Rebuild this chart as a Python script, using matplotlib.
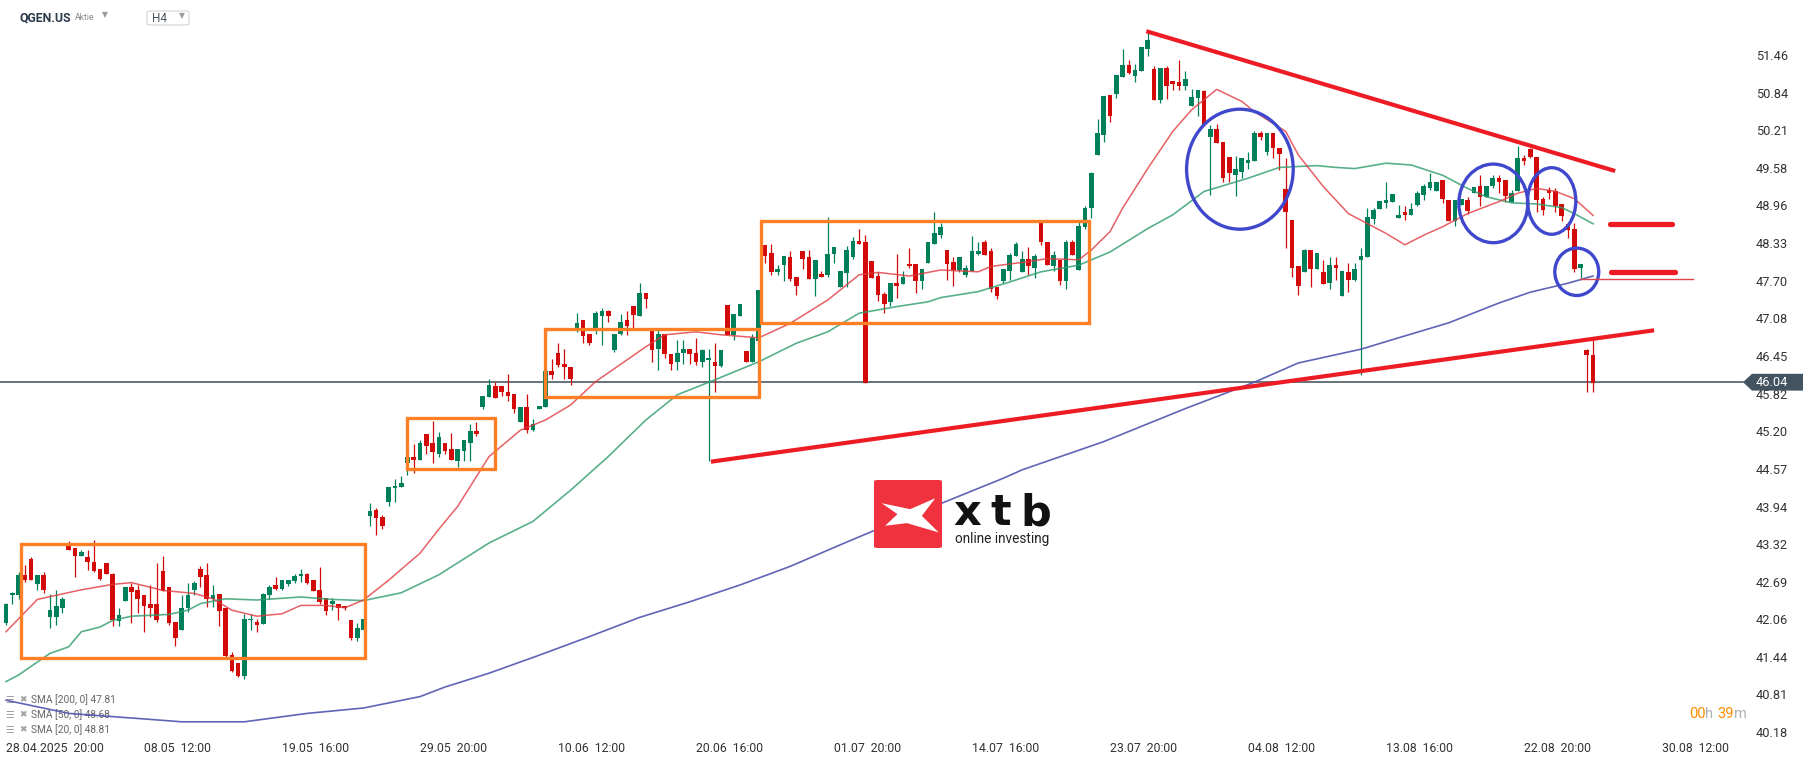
import numpy as np
import matplotlib.pyplot as plt
from matplotlib.patches import Rectangle, Ellipse, Polygon, FancyBboxPatch

plt.rcParams['font.family'] = ['Roboto', 'DejaVu Sans']

## Données (bougies H4, index = numéro de bougie)

opens = [
    42.03, 42.49, 42.49, 42.82, 43.09, 42.67, 42.82, 42.13, 42.13, 42.27,
    43.32, 43.28, 43.15, 43.13, 43.05, 42.92, 43.03, 42.84, 42.06, 42.39,
    42.63, 42.57, 42.49, 42.34, 42.35, 42.89, 42.63, 42.05, 41.91, 42.27,
    42.58, 42.92, 42.82, 42.42, 42.51, 42.27, 41.50, 41.36, 41.14, 42.07,
    42.05, 42.01, 42.49, 42.66, 42.60, 42.67, 42.72, 42.81, 42.84, 42.75,
    42.58, 42.45, 42.35, 42.35, 42.31, 42.08, 41.77, 41.91, 43.81, 43.91,
    43.79, 44.05, 44.27, 44.29, 44.70, 44.79, 44.74, 45.18, 45.02, 44.84,
    45.03, 44.92, 44.72, 44.90, 45.03, 45.22, 45.63, 45.79, 45.98, 45.98,
    45.88, 45.85, 45.38, 45.63, 45.25, 45.60, 45.63, 46.22, 46.52, 46.35,
    46.29, 46.95, 47.07, 46.85, 46.95, 47.14, 47.22, 46.58, 46.85, 47.07,
    47.31, 47.14, 47.52, 46.91, 46.59, 46.85, 46.51, 46.37, 46.52, 46.59,
    46.53, 46.37, 46.41, 46.38, 46.31, 47.33, 46.83, 47.14, 46.56, 46.38,
    46.72, 48.33, 48.19, 47.88, 47.99, 48.13, 47.79, 48.23, 48.12, 47.76,
    47.84, 47.82, 48.17, 47.63, 47.86, 48.12, 48.40, 48.38, 48.06, 47.81,
    47.51, 47.37, 47.69, 47.67, 48.01, 48.01, 47.72, 48.03, 48.35, 48.50,
    48.25, 48.04, 47.91, 47.82, 47.90, 48.18, 48.37, 48.22, 47.63, 47.73,
    47.90, 48.14, 47.88, 48.10, 47.95, 48.72, 48.37, 47.98, 48.08, 47.73,
    48.37, 47.91, 48.63, 48.94, 49.82, 50.16, 50.83, 50.85, 51.13, 51.33,
    51.15, 51.22, 51.60, 51.26, 50.74, 51.28, 51.06, 51.04, 50.98, 50.65,
    50.77, 50.89, 50.13, 50.26, 50.04, 49.79, 49.50, 49.55, 49.70, 49.73,
    50.20, 49.88, 50.19, 49.95, 49.26, 48.74, 47.98, 47.88, 48.24, 47.93,
    47.87, 47.69, 47.99, 47.48, 47.87, 47.75, 48.07, 48.13, 48.76, 48.92,
    49.03, 49.05, 48.78, 48.87, 48.82, 49.00, 49.16, 49.28, 49.23, 49.41,
    49.08, 48.73, 48.99, 49.08, 49.19, 49.31, 49.13, 49.31, 49.44, 49.41,
    49.05, 49.22, 49.77, 49.92, 49.79, 49.09, 49.25, 49.23, 49.01, 48.68,
    48.60, 47.95, 46.57, 46.49,
]
highs = [
    42.36, 42.55, 42.88, 42.99, 43.13, 42.82, 42.88, 42.51, 42.57, 42.46,
    43.40, 43.28, 43.24, 43.25, 43.41, 42.92, 43.03, 42.86, 42.28, 42.63,
    42.69, 42.66, 42.49, 42.66, 43.02, 43.15, 42.63, 42.05, 42.49, 42.70,
    42.72, 42.97, 43.02, 42.66, 42.51, 42.27, 41.55, 41.36, 42.18, 42.18,
    42.10, 42.53, 42.66, 42.80, 42.74, 42.74, 42.84, 42.92, 42.86, 42.75,
    42.96, 42.45, 42.45, 42.35, 42.31, 42.08, 42.02, 42.09, 44.03, 43.95,
    43.83, 44.29, 44.42, 44.47, 44.80, 45.01, 45.08, 45.18, 45.40, 45.21,
    45.03, 45.20, 44.92, 45.08, 45.34, 45.37, 45.81, 46.10, 46.05, 45.98,
    46.18, 45.85, 45.63, 45.85, 45.42, 45.64, 46.22, 46.42, 46.69, 46.60,
    46.29, 47.20, 47.07, 46.85, 47.22, 47.27, 47.25, 46.85, 47.18, 47.22,
    47.31, 47.70, 47.52, 46.91, 46.95, 46.85, 46.51, 46.75, 46.75, 46.59,
    46.77, 46.60, 46.60, 46.69, 46.58, 47.33, 47.18, 47.35, 46.56, 46.85,
    47.57, 48.33, 48.35, 47.99, 48.14, 48.22, 47.79, 48.23, 48.24, 48.07,
    47.89, 48.80, 48.30, 47.90, 48.31, 48.46, 48.59, 48.49, 48.06, 47.88,
    47.54, 47.70, 48.18, 47.89, 48.27, 48.01, 47.93, 48.38, 48.87, 48.70,
    48.25, 48.13, 48.12, 48.00, 48.47, 48.37, 48.41, 48.27, 47.63, 47.93,
    48.20, 48.37, 48.23, 48.29, 48.18, 48.72, 48.37, 48.22, 48.08, 48.41,
    48.41, 48.74, 48.98, 49.55, 50.43, 50.81, 50.83, 51.16, 51.59, 51.41,
    51.34, 51.62, 51.88, 51.31, 51.28, 51.31, 51.06, 51.41, 51.22, 50.93,
    50.91, 50.91, 50.32, 50.35, 50.04, 49.79, 49.81, 49.77, 49.87, 50.23,
    50.22, 50.19, 50.19, 49.95, 49.77, 48.74, 47.98, 48.26, 48.24, 48.19,
    48.08, 48.13, 48.13, 47.90, 48.03, 48.03, 48.28, 48.94, 48.94, 49.06,
    49.38, 49.18, 48.99, 48.97, 49.02, 49.22, 49.35, 49.52, 49.38, 49.41,
    49.08, 49.08, 49.10, 49.13, 49.29, 49.49, 49.31, 49.49, 49.50, 49.41,
    49.24, 49.97, 49.83, 49.94, 49.79, 49.13, 49.30, 49.27, 49.01, 48.69,
    48.69, 48.01, 46.60, 46.74,
]
lows = [
    42.00, 42.35, 42.42, 42.71, 42.74, 42.58, 42.53, 41.95, 41.99, 42.20,
    43.24, 42.80, 43.15, 42.91, 42.87, 42.74, 42.84, 41.97, 41.97, 42.39,
    42.02, 42.19, 41.88, 42.13, 42.05, 42.56, 41.99, 41.64, 41.91, 42.21,
    42.50, 42.63, 42.29, 42.30, 41.97, 41.46, 41.21, 41.12, 41.09, 41.91,
    41.88, 42.01, 42.42, 42.58, 42.57, 42.65, 42.70, 42.71, 42.68, 42.56,
    42.35, 42.16, 42.25, 42.07, 42.25, 41.75, 41.73, 41.89, 43.64, 43.50,
    43.59, 43.98, 44.05, 44.29, 44.49, 44.52, 44.74, 44.84, 44.70, 44.80,
    44.84, 44.74, 44.63, 44.72, 44.72, 45.14, 45.60, 45.79, 45.77, 45.81,
    45.73, 45.53, 45.38, 45.20, 45.22, 45.60, 45.63, 46.10, 46.30, 46.10,
    46.00, 46.88, 46.70, 46.66, 46.85, 46.66, 47.05, 46.55, 46.83, 46.83,
    46.95, 47.14, 47.27, 46.37, 46.25, 46.45, 46.25, 46.25, 46.35, 46.35,
    46.33, 46.30, 44.72, 45.88, 46.29, 46.83, 46.74, 47.14, 46.38, 46.38,
    46.72, 48.03, 47.83, 47.83, 47.73, 47.72, 47.49, 47.93, 47.76, 47.48,
    47.79, 47.79, 48.03, 47.62, 47.63, 48.09, 48.34, 46.02, 47.77, 47.40,
    47.20, 47.31, 47.45, 47.67, 47.94, 47.52, 47.59, 48.03, 48.35, 48.44,
    47.74, 47.64, 47.88, 47.80, 47.90, 48.16, 48.16, 47.55, 47.43, 47.69,
    47.75, 48.14, 47.88, 47.83, 47.77, 48.33, 48.00, 47.90, 47.66, 47.60,
    48.16, 47.91, 48.60, 48.77, 49.82, 50.05, 50.38, 50.78, 51.13, 51.17,
    51.05, 51.22, 51.48, 50.74, 50.70, 50.76, 50.91, 50.91, 50.91, 50.65,
    50.48, 50.33, 49.16, 50.03, 49.37, 49.37, 49.15, 49.44, 49.59, 49.73,
    50.08, 49.83, 49.78, 49.57, 48.28, 47.80, 47.50, 47.88, 47.62, 47.93,
    47.67, 47.60, 47.75, 47.48, 47.55, 47.73, 46.16, 48.13, 48.67, 48.92,
    48.94, 49.05, 48.78, 48.75, 48.82, 48.98, 49.08, 49.25, 49.23, 49.03,
    48.73, 48.64, 48.99, 48.85, 49.19, 48.98, 49.13, 49.27, 49.20, 49.05,
    49.05, 49.22, 49.66, 49.77, 48.88, 48.83, 49.10, 48.87, 48.72, 48.44,
    47.88, 47.77, 45.88, 45.88,
]
closes = [
    42.34, 42.53, 42.82, 42.74, 42.74, 42.82, 42.58, 42.24, 42.31, 42.42,
    43.24, 43.15, 43.21, 43.05, 42.90, 42.76, 42.85, 42.07, 42.16, 42.62,
    42.55, 42.43, 42.31, 42.28, 42.07, 42.56, 42.02, 41.77, 42.27, 42.49,
    42.69, 42.79, 42.42, 42.49, 42.23, 41.47, 41.23, 41.14, 42.09, 42.10,
    42.00, 42.51, 42.62, 42.60, 42.74, 42.74, 42.81, 42.85, 42.69, 42.56,
    42.38, 42.23, 42.39, 42.27, 42.27, 41.77, 41.95, 42.09, 43.89, 43.77,
    43.65, 44.29, 44.31, 44.36, 44.80, 44.74, 45.02, 44.98, 44.88, 45.12,
    44.90, 44.74, 44.92, 45.08, 45.22, 45.18, 45.81, 45.99, 45.77, 45.87,
    45.81, 45.59, 45.63, 45.25, 45.35, 45.64, 46.22, 46.16, 46.33, 46.29,
    46.09, 47.03, 46.81, 46.70, 47.19, 47.23, 47.14, 46.85, 47.05, 46.98,
    47.16, 47.53, 47.42, 46.58, 46.85, 46.51, 46.35, 46.53, 46.60, 46.51,
    46.37, 46.58, 46.45, 46.31, 46.58, 46.83, 47.18, 47.35, 46.38, 46.77,
    47.57, 48.14, 47.88, 47.93, 48.14, 47.76, 47.65, 48.09, 47.76, 48.07,
    47.80, 48.18, 48.30, 47.90, 48.24, 48.40, 48.35, 46.02, 47.78, 47.49,
    47.35, 47.70, 47.64, 47.79, 47.97, 47.73, 47.93, 48.38, 48.53, 48.63,
    48.01, 47.91, 48.12, 47.95, 48.22, 48.23, 48.16, 47.60, 47.48, 47.93,
    48.16, 48.34, 48.10, 47.98, 48.14, 48.37, 48.00, 48.16, 47.73, 48.37,
    48.16, 48.64, 48.94, 49.53, 50.20, 50.81, 50.48, 51.16, 51.33, 51.20,
    51.24, 51.62, 51.74, 50.74, 51.28, 50.97, 51.01, 50.98, 51.09, 50.80,
    50.91, 50.33, 50.26, 50.03, 49.45, 49.52, 49.60, 49.77, 49.75, 50.20,
    50.13, 50.19, 49.94, 49.84, 48.87, 47.95, 47.65, 48.24, 47.93, 48.19,
    47.67, 47.99, 47.95, 47.90, 47.75, 47.92, 48.14, 48.79, 48.91, 49.06,
    49.08, 49.18, 48.82, 48.82, 48.93, 49.19, 49.31, 49.37, 49.38, 49.10,
    48.73, 49.08, 49.10, 48.90, 49.29, 49.13, 49.31, 49.45, 49.38, 49.14,
    49.19, 49.77, 49.72, 49.79, 49.07, 48.91, 49.20, 48.98, 48.81, 48.58,
    47.93, 48.01, 46.49, 46.02,
]

# moyennes mobiles (index de bougie, valeur)
sma20_idx = [0, 5, 12, 17, 20, 25, 30, 33, 36, 40, 44, 47, 51, 54, 57, 61, 66, 69, 72, 77,
             82, 86, 90, 94, 102, 105, 110, 114, 120, 125, 131, 136, 139, 144, 149, 155, 157, 163, 166, 171,
             173, 176, 178, 182, 186, 189, 193, 197, 199, 204, 206, 210, 214, 220, 223, 226, 229, 233, 238, 241,
             244, 247, 250, 253]
sma20_val = [41.88, 42.42, 42.58, 42.67, 42.70, 42.57, 42.52, 42.43, 42.24, 42.14, 42.18, 42.32, 42.32, 42.28, 42.41, 42.74, 43.19, 43.59, 43.97, 44.80,
             45.24, 45.41, 45.66, 46.05, 46.63, 46.83, 46.88, 46.83, 46.78, 47.02, 47.41, 47.83, 47.87, 47.81, 47.91, 47.88, 47.97, 48.05, 48.10, 48.08,
             48.24, 48.55, 48.94, 49.60, 50.22, 50.58, 50.92, 50.72, 50.55, 50.22, 49.83, 49.30, 48.85, 48.52, 48.33, 48.49, 48.63, 48.85, 49.05, 49.19,
             49.27, 49.22, 49.10, 48.82]
sma50_idx = [0, 2, 7, 10, 12, 15, 17, 20, 26, 29, 31, 35, 40, 47, 52, 57, 63, 69, 77, 84,
             90, 96, 102, 107, 113, 120, 126, 131, 136, 142, 147, 149, 155, 160, 165, 171, 176, 182, 186, 191,
             198, 203, 209, 212, 215, 220, 224, 229, 233, 236, 240, 244, 248, 250, 253]
sma50_val = [41.05, 41.16, 41.52, 41.63, 41.88, 41.96, 42.07, 42.14, 42.17, 42.24, 42.35, 42.43, 42.41, 42.46, 42.42, 42.40, 42.53, 42.83, 43.36, 43.72,
             44.24, 44.80, 45.41, 45.83, 46.08, 46.38, 46.69, 46.88, 47.19, 47.30, 47.38, 47.45, 47.55, 47.71, 47.88, 47.99, 48.21, 48.60, 48.83, 49.22,
             49.44, 49.62, 49.65, 49.62, 49.60, 49.69, 49.66, 49.49, 49.27, 49.13, 49.03, 49.01, 48.95, 48.85, 48.68]
sma200_idx = [0, 10, 23, 28, 38, 48, 57, 66, 70, 77, 85, 93, 101, 109, 117, 125, 133, 138, 159, 162,
              175, 188, 199, 206, 216, 222, 230, 238, 243, 249, 253]
sma200_val = [40.74, 40.52, 40.42, 40.38, 40.38, 40.52, 40.61, 40.80, 40.96, 41.19, 41.49, 41.80, 42.12, 42.38, 42.66, 42.97, 43.33, 43.55, 44.44, 44.58,
              45.05, 45.60, 46.04, 46.36, 46.59, 46.78, 47.03, 47.36, 47.54, 47.69, 47.81]

price_ticks = [51.46, 50.84, 50.21, 49.58, 48.96, 48.33, 47.70, 47.08, 46.45, 45.82,
               45.20, 44.57, 43.94, 43.32, 42.69, 42.06, 41.44, 40.81, 40.18]
date_idx = [0, 22, 44, 66, 88, 110, 132, 154, 176, 198, 220, 242, 264]
date_labels = ["28.04.2025  20:00", "08.05  12:00", "19.05  16:00", "29.05  20:00", "10.06  12:00",
               "20.06  16:00", "01.07  20:00", "14.07  16:00", "23.07  20:00", "04.08  12:00",
               "13.08  16:00", "22.08  20:00", "30.08  12:00"]
last_price = 46.04

# annotations dessinées à la main sur le graphique
boxes = [(2.4, 41.45, 57.3, 43.34), (64.0, 44.59, 77.9, 45.45),
         (86.0, 45.79, 120.1, 46.92), (120.4, 47.02, 172.6, 48.73)]
circles = [(196.7, 49.59, 17.0, 2.00), (237.1, 49.02, 11.0, 1.31),
           (246.4, 49.06, 7.7, 1.11), (250.4, 47.88, 7.0, 0.79)]
trend_down = ([182.1, 256.2], [51.88, 49.57])
trend_up = ([112.7, 262.4], [44.72, 46.90])
levels = [(255.7, 265.6, 48.67), (255.8, 266.0, 47.87)]
thin_level = (250.9, 268.9, 47.76)

## Figure

W, H = 1815, 761
fig = plt.figure(figsize=(W / 100, H / 100), dpi=100)
ax = fig.add_axes([0, 0, 1, 1])
step = 6.273          # px par bougie
ppx = 60.0            # px par dollar
ax.set_xlim(-6 / step, (W - 6) / step)
ax.set_ylim(52.41 - H / ppx, 52.41)
ax.axis('off')

GREEN = '#00805a'
RED = '#d20a0a'

o = np.array(opens); h = np.array(highs); l = np.array(lows); c = np.array(closes)
idx = np.arange(len(o))
cols = np.where(c >= o, GREEN, RED)
ax.vlines(idx, l, h, colors=cols, linewidth=0.9, zorder=2)
ax.bar(idx, np.maximum(np.abs(c - o), 0.02), bottom=np.minimum(o, c), width=0.74,
       color=cols, linewidth=0, zorder=3)

ax.plot(sma200_idx, sma200_val, color='#4f53ad', lw=1.2, alpha=0.9, zorder=4)
ax.plot(sma50_idx, sma50_val, color='#2f9c6c', lw=1.2, alpha=0.8, zorder=4)
ax.plot(sma20_idx, sma20_val, color='#e0393e', lw=1.1, alpha=0.8, zorder=4)

# ligne du dernier prix
ax.axhline(last_price, xmin=0, xmax=1743 / W, color='#3f4b56', lw=1.1, zorder=1)

# annotations
for x0, y0, x1, y1 in boxes:
    ax.add_patch(Rectangle((x0, y0), x1 - x0, y1 - y0, fill=False, ec='#ff7f27', lw=2.4, zorder=5))
for cx, cy, w, hh in circles:
    ax.add_patch(Ellipse((cx, cy), w, hh, fill=False, ec='#3f48cc', lw=2.4, zorder=5))
ax.plot(*trend_down, color='#ed1c24', lw=3.0, zorder=5)
ax.plot(*trend_up, color='#ed1c24', lw=3.0, zorder=5)
for x0, x1, y in levels:
    ax.plot([x0, x1], [y, y], color='#ed1c24', lw=3.8, solid_capstyle='round', zorder=5)
ax.plot([thin_level[0], thin_level[1]], [thin_level[2]] * 2, color='#e0454a', lw=1.0, zorder=5)

# axe des prix
ytr = ax.get_yaxis_transform()
for p in price_ticks:
    ax.text(1756 / W, p, f"{p:.2f}", transform=ytr, ha='left', va='center',
            fontsize=9.2, color='#333333')
tag = Polygon([(1743 / W, last_price), (1752 / W, last_price + 0.14), (1803 / W, last_price + 0.14),
               (1803 / W, last_price - 0.14), (1752 / W, last_price - 0.14)],
              closed=True, transform=ytr, fc='#435360', ec='none', zorder=6)
ax.add_patch(tag)
ax.text(1756 / W, last_price, f"{last_price:.2f}", transform=ytr, ha='left', va='center',
        fontsize=9.2, color='white', zorder=7)

# axe des dates
xtr = ax.get_xaxis_transform()
for i, lab in zip(date_idx, date_labels):
    ax.text(i, 1 - 748 / H, lab, transform=xtr, ha='left', va='center', fontsize=8.8, color='#333333')

# en-tête
ta = ax.transAxes
ax.text(20 / W, 1 - 18 / H, "QGEN.US", transform=ta, fontsize=8.8, fontweight='bold',
        color='#2b3a4a', va='center')
ax.text(75 / W, 1 - 18 / H, "Aktie", transform=ta, fontsize=6.2, color='#8a8a8a', va='center')
ax.text(105 / W, 1 - 15 / H, "▼", transform=ta, fontsize=5.5, color='#9a9a9a', va='center',
        ha='center', family='DejaVu Sans')
ax.add_patch(FancyBboxPatch((147 / W, 1 - 25 / H), 42 / W, 14 / H, boxstyle='round,pad=0,rounding_size=0.002',
                            transform=ta, fc='white', ec='#d5d5d5', lw=0.8))
ax.text(152 / W, 1 - 19 / H, "H4", transform=ta, fontsize=8.5, color='#4a5560', va='center')
ax.text(182 / W, 1 - 16 / H, "▼", transform=ta, fontsize=5.5, color='#9a9a9a', va='center',
        ha='center', family='DejaVu Sans')

# légende des moyennes mobiles
legend_lines = ["SMA [200, 0] 47.81", "SMA [50, 0] 48.68", "SMA [20, 0] 48.81"]
for k, txt in enumerate(legend_lines):
    yy = 1 - (700 + 15 * k) / H
    ax.text(10 / W, yy, "☰", transform=ta, fontsize=7, color='#a0a0a0', va='center', ha='center',
            family='DejaVu Sans')
    ax.text(23 / W, yy, "✖", transform=ta, fontsize=6.5, color='#a0a0a0', va='center', ha='center',
            family='DejaVu Sans')
    ax.text(31 / W, yy, txt, transform=ta, fontsize=7.3, color='#666666', va='center')

# compte à rebours
cx0 = 1689
for s, col in [("00", '#ff8c00'), ("h ", '#b0b0b0'), ("39", '#ff8c00'), ("m", '#b0b0b0')]:
    t = ax.text(cx0 / W, 1 - 714 / H, s, transform=ta, fontsize=10.5, color=col, va='center')
    fig.canvas.draw()
    cx0 += t.get_window_extent().width

# logo xtb
ax.add_patch(FancyBboxPatch((874 / W, 1 - 548 / H), 68 / W, 68 / H,
                            boxstyle='round,pad=0,rounding_size=0.002', transform=ta,
                            fc='#f0313e', ec='none', zorder=6))
shape_u = [0.113, 0.532, 0.901, 0.704, 0.951, 0.483, 0.163, 0.345]
shape_v = [0.659, 0.571, 0.732, 0.473, 0.229, 0.366, 0.327, 0.498]
pts = [((874 + 68 * u) / W, (1 - 548 / H) + 68 * v / H) for u, v in zip(shape_u, shape_v)]
ax.add_patch(Polygon(pts, closed=True, transform=ta, fc='white', ec='none', zorder=7))
for ch, xx in [("x", 953), ("t", 990), ("b", 1020)]:
    ax.text(xx / W, 1 - 525 / H, ch, transform=ta, fontsize=31, fontweight='bold',
            family='DejaVu Sans', color='#111111', va='baseline', zorder=7)
ax.text(955 / W, 1 - 539 / H, "online investing", transform=ta, fontsize=9.8, color='#222222',
        va='center', zorder=7)

fig.savefig("out.png", dpi=100)
